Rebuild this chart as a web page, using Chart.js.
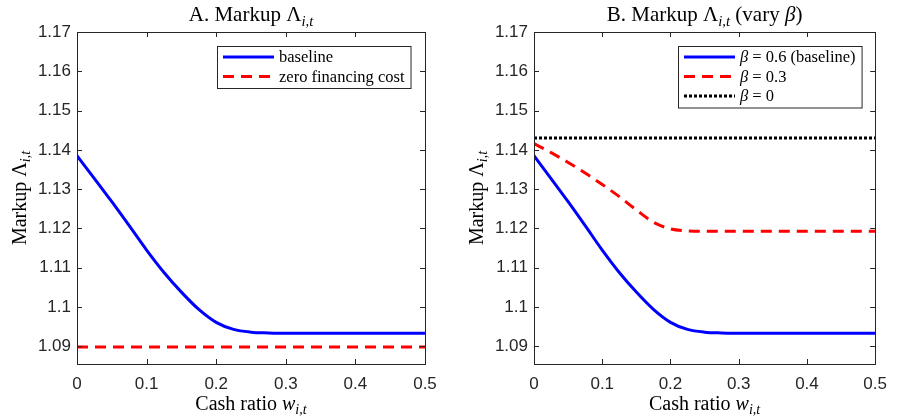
<!DOCTYPE html>
<html>
<head>
<meta charset="utf-8">
<script src="https://cdn.jsdelivr.net/npm/chart.js@4.4.1/dist/chart.umd.min.js"></script>
<style>
  body { margin: 0; background: #fff; }
  #wrap { position: relative; width: 897px; height: 419px; }
  canvas { position: absolute; top: 0; }
</style>
</head>
<body>
<div id="wrap">
  <canvas id="chartA" width="448" height="419" style="left:0"></canvas>
  <canvas id="chartB" width="449" height="419" style="left:448px"></canvas>
</div>
<script>
// cash ratio grid
var xVals = [0, 0.025, 0.05, 0.075, 0.1, 0.125, 0.15, 0.175, 0.2, 0.225, 0.25, 0.275, 0.3, 0.35, 0.4, 0.45, 0.5];
// markup, baseline (beta = 0.6)
var baseline = [1.1385, 1.1327, 1.1268, 1.1207, 1.1145, 1.1088, 1.1038, 1.0994, 1.0961, 1.0943, 1.0936, 1.0934, 1.0933, 1.0933, 1.0933, 1.0933, 1.0933];
// zero financing cost
var zeroCost = [1.0898, 1.0898, 1.0898, 1.0898, 1.0898, 1.0898, 1.0898, 1.0898, 1.0898, 1.0898, 1.0898, 1.0898, 1.0898, 1.0898, 1.0898, 1.0898, 1.0898];
// beta = 0.3
var beta03 = [1.1416, 1.1393, 1.1368, 1.1341, 1.1312, 1.1281, 1.1247, 1.1216, 1.1199, 1.1194, 1.1193, 1.1193, 1.1193, 1.1193, 1.1193, 1.1193, 1.1193];
// beta = 0
var beta0 = [1.1430, 1.1430, 1.1430, 1.1430, 1.1430, 1.1430, 1.1430, 1.1430, 1.1430, 1.1430, 1.1430, 1.1430, 1.1430, 1.1430, 1.1430, 1.1430, 1.1430];

var xTicks = [0, 0.1, 0.2, 0.3, 0.4, 0.5];
var yTicks = [1.09, 1.1, 1.11, 1.12, 1.13, 1.14, 1.15, 1.16, 1.17];
var yMin = 1.0855, yMax = 1.17;

var SERIF = "'Liberation Serif', 'DejaVu Serif', serif";
var SANS = "'Liberation Sans', Arial, sans-serif";
var AXIS = '#262626';

function toPts(ys) {
  return xVals.map(function (x, i) { return { x: x, y: ys[i] }; });
}

// rich text: parts = [[text, style]] style: '' | 'i' (italic) | 's' (italic subscript)
function partFont(style, size) {
  var sz = style === 's' ? size * 0.7 : size;
  return (style === 'i' || style === 's' ? 'italic ' : '') + sz + 'px ' + SERIF;
}
function richWidth(ctx, parts, size) {
  var w = 0;
  parts.forEach(function (p) { ctx.font = partFont(p[1], size); w += ctx.measureText(p[0]).width; });
  return w;
}
function drawRich(ctx, parts, x, y, size, align) {
  var w = richWidth(ctx, parts, size);
  var cx = align === 'center' ? x - w / 2 : x;
  ctx.textBaseline = 'alphabetic';
  ctx.textAlign = 'left';
  parts.forEach(function (p) {
    ctx.font = partFont(p[1], size);
    ctx.fillText(p[0], cx, p[1] === 's' ? y + size * 0.22 : y);
    cx += ctx.measureText(p[0]).width;
  });
}

var matlabFrame = {
  id: 'matlabFrame',
  afterDraw: function (chart, args, opts) {
    var ctx = chart.ctx, a = chart.chartArea;
    var xs = chart.scales.x, ys = chart.scales.y;
    ctx.save();
    // box
    ctx.strokeStyle = AXIS;
    ctx.lineWidth = 1;
    ctx.strokeRect(Math.round(a.left) + 0.5, Math.round(a.top) + 0.5, Math.round(a.right - a.left), Math.round(a.bottom - a.top));
    // inner ticks on all four sides
    ctx.beginPath();
    xTicks.forEach(function (v) {
      var px = Math.round(xs.getPixelForValue(v)) + 0.5;
      ctx.moveTo(px, a.bottom); ctx.lineTo(px, a.bottom - 5);
      ctx.moveTo(px, a.top); ctx.lineTo(px, a.top + 5);
    });
    yTicks.forEach(function (v) {
      var py = Math.round(ys.getPixelForValue(v)) + 0.5;
      ctx.moveTo(a.left, py); ctx.lineTo(a.left + 5, py);
      ctx.moveTo(a.right, py); ctx.lineTo(a.right - 5, py);
    });
    ctx.stroke();

    // title and axis labels
    ctx.fillStyle = '#000';
    var cx = (a.left + a.right) / 2;
    drawRich(ctx, opts.title, cx, a.top - 11, 21, 'center');
    drawRich(ctx, opts.xLabel, cx, a.bottom + 46, 20, 'center');
    ctx.save();
    ctx.translate(a.left - 51, (a.top + a.bottom) / 2);
    ctx.rotate(-Math.PI / 2);
    drawRich(ctx, opts.yLabel, 0, 0, 20, 'center');
    ctx.restore();

    // legend
    var size = 16.5, rowH = 19.5, sampleLen = 51;
    var maxW = 0;
    opts.legend.forEach(function (e) { maxW = Math.max(maxW, richWidth(ctx, e, size)); });
    var bw = 6 + sampleLen + 5 + maxW + 6;
    var bh = opts.legend.length * rowH + 3;
    var bx = Math.round(a.right - 14 - bw), by = Math.round(a.top + 14);
    ctx.fillStyle = '#fff';
    ctx.fillRect(bx, by, bw, bh);
    ctx.strokeStyle = AXIS;
    ctx.lineWidth = 1;
    ctx.strokeRect(bx + 0.5, by + 0.5, bw, bh);
    opts.legend.forEach(function (e, i) {
      var ds = chart.data.datasets[i];
      var ry = by + 11 + i * rowH;
      ctx.save();
      ctx.strokeStyle = ds.borderColor;
      ctx.lineWidth = ds.borderWidth;
      ctx.setLineDash(ds.borderDash || []);
      ctx.beginPath();
      ctx.moveTo(bx + 6, ry); ctx.lineTo(bx + 6 + sampleLen, ry);
      ctx.stroke();
      ctx.restore();
      ctx.fillStyle = '#000';
      drawRich(ctx, e, bx + 6 + sampleLen + 5, ry + 5, size, 'left');
    });
    ctx.restore();
  }
};

function makeOptions(yAxisWidth, padRight, frame) {
  return {
    responsive: false,
    animation: false,
    layout: { padding: { top: 32, right: padRight, left: 0, bottom: 0 } },
    elements: { point: { radius: 0 }, line: { cubicInterpolationMode: 'monotone', borderCapStyle: 'butt' } },
    plugins: { legend: { display: false }, title: { display: false }, tooltip: { enabled: false }, matlabFrame: frame },
    scales: {
      x: {
        type: 'linear', min: 0, max: 0.5,
        afterBuildTicks: function (s) { s.ticks = xTicks.map(function (v) { return { value: v }; }); },
        afterFit: function (s) { s.height = 55; },
        ticks: { color: AXIS, font: { family: SANS, size: 17 }, padding: 10, maxRotation: 0,
          callback: function (v) { return String(Number(v.toFixed(2))); } },
        grid: { display: false, drawTicks: false },
        border: { display: false }
      },
      y: {
        type: 'linear', min: yMin, max: yMax,
        afterBuildTicks: function (s) { s.ticks = yTicks.map(function (v) { return { value: v }; }); },
        afterFit: function (s) { s.width = yAxisWidth; },
        ticks: { color: AXIS, font: { family: SANS, size: 17 }, padding: 6,
          callback: function (v) { return String(Number(v.toFixed(2))); } },
        grid: { display: false, drawTicks: false },
        border: { display: false }
      }
    }
  };
}

new Chart(document.getElementById('chartA'), {
  type: 'line',
  data: {
    datasets: [
      { label: 'baseline', data: toPts(baseline), borderColor: '#0000ff', borderWidth: 3 },
      { label: 'zero financing cost', data: toPts(zeroCost), borderColor: '#ff0000', borderWidth: 3, borderDash: [11, 7] }
    ]
  },
  options: makeOptions(77, 23, {
    title: [['A. Markup \u039B', ''], ['i,t', 's']],
    xLabel: [['Cash ratio ', ''], ['w', 'i'], ['i,t', 's']],
    yLabel: [['Markup \u039B', ''], ['i,t', 's']],
    legend: [[['baseline', '']], [['zero financing cost', '']]]
  }),
  plugins: [matlabFrame]
});

new Chart(document.getElementById('chartB'), {
  type: 'line',
  data: {
    datasets: [
      { label: 'beta = 0.6 (baseline)', data: toPts(baseline), borderColor: '#0000ff', borderWidth: 3 },
      { label: 'beta = 0.3', data: toPts(beta03), borderColor: '#ff0000', borderWidth: 3, borderDash: [11, 7] },
      { label: 'beta = 0', data: toPts(beta0), borderColor: '#000000', borderWidth: 3, borderDash: [3, 2] }
    ]
  },
  options: makeOptions(86, 14, {
    title: [['B. Markup \u039B', ''], ['i,t', 's'], [' (vary ', ''], ['\u03B2', 'i'], [')', '']],
    xLabel: [['Cash ratio ', ''], ['w', 'i'], ['i,t', 's']],
    yLabel: [['Markup \u039B', ''], ['i,t', 's']],
    legend: [
      [['\u03B2', 'i'], [' = 0.6 (baseline)', '']],
      [['\u03B2', 'i'], [' = 0.3', '']],
      [['\u03B2', 'i'], [' = 0', '']]
    ]
  }),
  plugins: [matlabFrame]
});
</script>
</body>
</html>
